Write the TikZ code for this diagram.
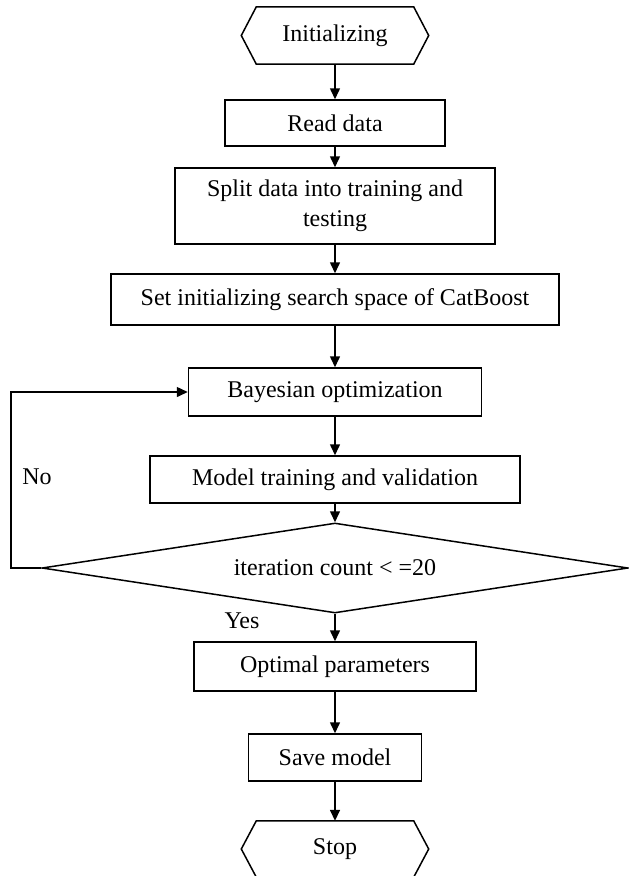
\documentclass[tikz,border=0pt]{standalone}
\usepackage{fontspec}
\setmainfont{Liberation Serif}
\usetikzlibrary{shapes.geometric,arrows.meta,calc}
\begin{document}
\begin{tikzpicture}[x=1pt,y=-1pt,
  every node/.style={font=\fontsize{24}{30}\selectfont},
  procbox/.style={draw,line width=1.5pt,rectangle,inner sep=0pt,align=center},
  hexcore/.style={rectangle,inner sep=0pt,align=center},
  decbox/.style={draw,line width=1.5pt,diamond,shape aspect=6.5,inner sep=0pt},
  arr/.style={line width=1.5pt,-{Triangle[length=11pt,width=10pt]}},
  hexline/.style={line width=1.5pt,line join=miter}
]
\useasboundingbox (0,0) rectangle (629,876);

\node[hexcore,minimum width=157pt,minimum height=57pt] (init) at (335,35.5) {Initializing};
\draw[hexline] (init.north west) -- (init.north east) -- ([xshift=15pt]init.east) -- (init.south east) -- (init.south west) -- ([xshift=-15pt]init.west) -- cycle;

\node[procbox,minimum width=220pt,minimum height=46pt] (read) at (335,123) {Read data};
\node[procbox,minimum width=320pt,minimum height=76pt] (split) at (335,206) {Split data into training and\\testing};
\node[procbox,minimum width=448pt,minimum height=51pt] (set) at (335,299.5) {Set initializing search space of CatBoost};
\node[procbox,minimum width=293pt,minimum height=48pt] (bayes) at (335,392) {Bayesian optimization};
\node[procbox,minimum width=370pt,minimum height=47pt] (model) at (335,479.5) {Model training and validation};
\node[decbox,minimum width=586pt,minimum height=90pt] (dec) at (335,568) {iteration count < =20};
\node[procbox,minimum width=282pt,minimum height=49pt] (opt) at (335,666.5) {Optimal parameters};
\node[procbox,minimum width=173pt,minimum height=47pt] (save) at (335,757.5) {Save model};

\node[hexcore,minimum width=157pt,minimum height=56pt] (stop) at (335,849) {Stop};
\draw[hexline] (stop.north west) -- (stop.north east) -- ([xshift=15pt]stop.east) -- (stop.south east) -- (stop.south west) -- ([xshift=-15pt]stop.west) -- cycle;

\coordinate (lx) at (11,0);
\node (no) at (37,477) {No};
\node (yes) at (242,621) {Yes};

\draw[arr] (init.south) -- (read.north);
\draw[arr] (read.south) -- (split.north);
\draw[arr] (split.south) -- (set.north);
\draw[arr] (set.south) -- (bayes.north);
\draw[arr] (bayes.south) -- (model.north);
\draw[arr] (model.south) -- (dec.north);
\draw[arr] (dec.south) -- (opt.north);
\draw[arr] (opt.south) -- (save.north);
\draw[arr] (save.south) -- (stop.north);
\draw[arr] (dec.west) -- (dec.west -| lx) |- (bayes.west);
\end{tikzpicture}
\end{document}
